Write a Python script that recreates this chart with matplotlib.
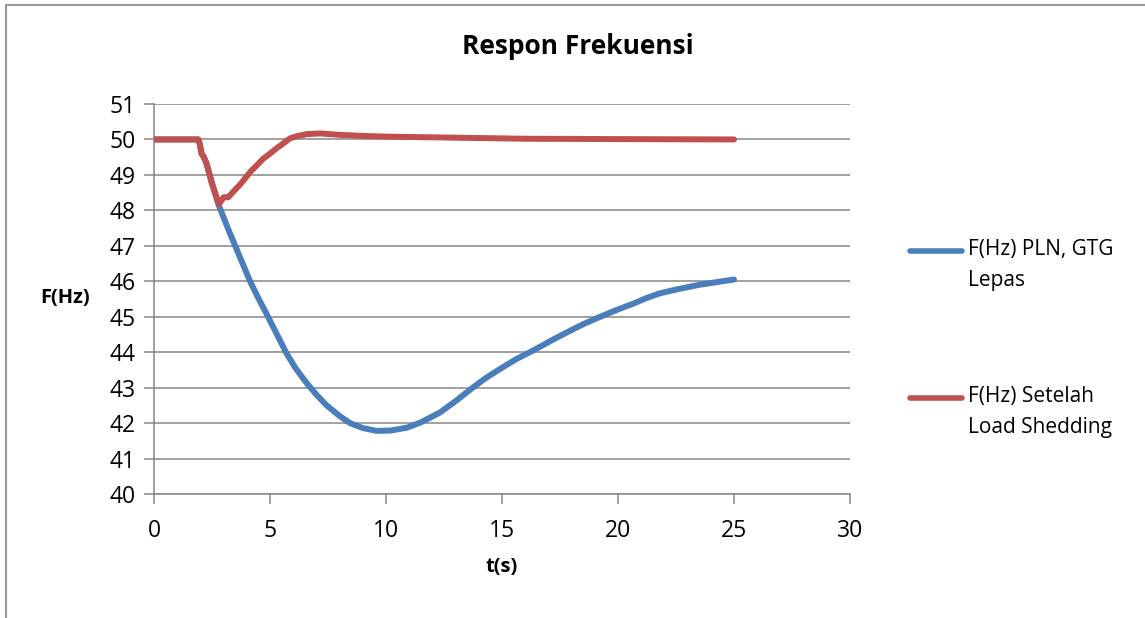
import matplotlib
matplotlib.use("Agg")
import matplotlib.pyplot as plt
from matplotlib.lines import Line2D

plt.rcParams['font.family'] = ['Open Sans', 'DejaVu Sans']

# Data
t_pln = [0, 1, 1.91, 1.98, 2.05, 2.15, 2.26, 2.4, 2.48, 2.65, 2.77, 3.0, 3.28, 3.5, 3.71,
         4.0, 4.14, 4.5, 4.86, 5.3, 5.71, 6.1, 6.58, 7.0, 7.44, 8.0, 8.45, 9.0, 9.6,
         10.2, 10.9, 11.5, 12.33, 13.0, 13.76, 14.3, 14.9, 15.6, 16.35, 17.1, 17.8,
         18.5, 19.2, 19.9, 20.66, 21.2, 21.8, 22.6, 23.5, 24.3, 25.0]
f_pln = [50, 50, 50, 49.85, 49.6, 49.5, 49.33, 49.0, 48.8, 48.45, 48.18, 47.8, 47.34,
         47.0, 46.67, 46.22, 46.0, 45.52, 45.07, 44.5, 43.97, 43.55, 43.13, 42.8, 42.5,
         42.2, 42.0, 41.86, 41.78, 41.79, 41.87, 42.02, 42.3, 42.62, 43.01, 43.27, 43.52,
         43.8, 44.05, 44.32, 44.56, 44.79, 44.99, 45.18, 45.37, 45.52, 45.66, 45.78, 45.9,
         45.98, 46.05]

t_ls = [0, 1, 1.91, 1.98, 2.05, 2.15, 2.26, 2.4, 2.48, 2.65, 2.8, 3.0, 3.2, 3.45, 3.7,
        3.9, 4.14, 4.4, 4.71, 5.0, 5.28, 5.6, 5.86, 6.2, 6.58, 7.16, 8.0, 9.0, 10.0,
        13.0, 16.0, 20.0, 25.0]
f_ls = [50, 50, 50, 49.85, 49.6, 49.5, 49.33, 49.0, 48.8, 48.45, 48.17, 48.37, 48.37,
        48.55, 48.72, 48.88, 49.08, 49.25, 49.46, 49.6, 49.75, 49.9, 50.03, 50.1, 50.15,
        50.17, 50.13, 50.1, 50.08, 50.05, 50.02, 50.01, 50.0]

labels = ["F(Hz) PLN, GTG\nLepas", "F(Hz) Setelah\nLoad Shedding"]
colors = ["#4A7EBB", "#C0504D"]
x_ticks = [0, 5, 10, 15, 20, 25, 30]
y_ticks = list(range(40, 52))

fig = plt.figure(figsize=(11.45, 6.18), dpi=100)
ax = fig.add_axes([154/1145, 1-494/618, (850-154)/1145, (494-104)/618])

grid_c = "#868686"
ax.plot(t_pln, f_pln, color=colors[0], lw=4.3, solid_capstyle='round',
        solid_joinstyle='round', label=labels[0], zorder=3)
ax.plot(t_ls, f_ls, color=colors[1], lw=4.3, solid_capstyle='round',
        solid_joinstyle='round', label=labels[1], zorder=4)

ax.set_xlim(0, 30)
ax.set_ylim(40, 51)
ax.set_xticks(x_ticks)
ax.set_yticks(y_ticks)
ax.yaxis.grid(True, color=grid_c, lw=1.1)
ax.set_axisbelow(True)
for s in ['top', 'right']:
    ax.spines[s].set_visible(False)
for s in ['left', 'bottom']:
    ax.spines[s].set_color(grid_c)
    ax.spines[s].set_linewidth(1.1)
ax.tick_params(axis='both', colors=grid_c, length=7, width=1.1, labelsize=16.5,
               labelcolor='black', direction='out')
ax.tick_params(axis='x', pad=11)
ax.tick_params(axis='y', pad=6)

fig.text(578/1145, 1-47/618, "Respon Frekuensi", ha='center', va='center',
         fontsize=19, fontweight='bold')
fig.text(502/1145, 1-567/618, "t(s)", ha='center', va='center', fontsize=14.5, fontweight='bold')
fig.text(65/1145, 1-298/618, "F(Hz)", ha='center', va='center', fontsize=14.5, fontweight='bold')

# legend (manual placement to match reference layout)
for lab, c, ly in zip(labels, colors, [251, 398]):
    fig.add_artist(Line2D([910/1145, 962/1145], [1-ly/618, 1-ly/618], color=c, lw=4,
                          solid_capstyle='round'))
    fig.text(968/1145, 1-(ly-12)/618, lab, ha='left', va='top', fontsize=15,
             linespacing=1.6)

# figure border (top & left)
fig.add_artist(Line2D([6/1145, 6/1145], [0, 1-5/618], color='#9a9a9a', lw=1.5))
fig.add_artist(Line2D([6/1145, 1], [1-5/618, 1-5/618], color='#9a9a9a', lw=1.5))

fig.savefig("out.png", dpi=100)
